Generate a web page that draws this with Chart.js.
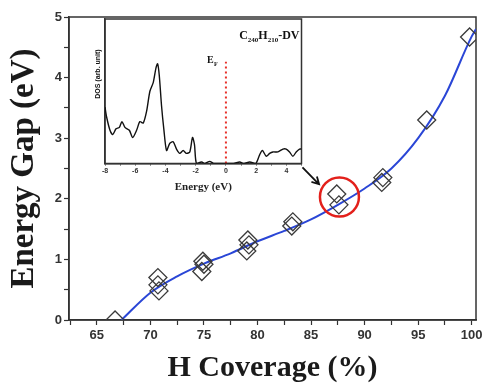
<!DOCTYPE html>
<html>
<head>
<meta charset="utf-8">
<script src="https://cdn.jsdelivr.net/npm/chart.js@4.4.1/dist/chart.umd.min.js"></script>
<style>
  html, body { margin: 0; padding: 0; background: #fff; }
  #wrap { position: relative; width: 487px; height: 383px; }
  #main { position: absolute; left: 0; top: 0; }
  #inset { position: absolute; left: 88px; top: 18px; }
</style>
</head>
<body>
<div id="wrap">
  <canvas id="main" width="487" height="383"></canvas>
  <canvas id="inset" width="222" height="178"></canvas>
</div>
<script>
// H coverage (%) and band gap (eV) of each configuration
const coverage = [66.7, 70.7, 70.7, 70.8, 74.9, 75.0, 74.8, 79.1, 79.2, 79.0, 83.3, 83.2, 87.4, 87.6, 91.7, 91.6, 95.8, 99.8];
const gap      = [0, 0.70, 0.58, 0.48, 0.97, 0.92, 0.80, 1.32, 1.24, 1.14, 1.62, 1.55, 2.08, 1.90, 2.35, 2.27, 3.30, 4.67];

// fitted trend
const fitX = [67.3, 70, 72.5, 75, 77.5, 80, 82.5, 85, 87.5, 90, 92.5, 95, 97.5, 100, 100.4];
const fitY = [0, 0.45, 0.72, 0.93, 1.10, 1.30, 1.47, 1.66, 1.90, 2.17, 2.50, 3.00, 3.70, 4.68, 4.80];

// DOS of C240H210-DV (inset)
const energy = [-8.0, -7.89, -7.67, -7.49, -7.27, -7.05, -6.88, -6.68, -6.39, -6.17, -5.91, -5.69, -5.47, -5.25,
  -5.03, -4.81, -4.63, -4.52, -4.41, -4.26, -4.11, -3.93, -3.71, -3.49, -3.27, -3.05, -2.83, -2.61, -2.39,
  -2.21, -2.08, -1.95, -1.6, -1.4, -1.07, -0.8, 0.5, 0.91, 1.2, 1.57, 1.97, 2.23, 2.41, 2.67, 2.89, 3.11,
  3.44, 3.77, 3.99, 4.21, 4.43, 4.65, 4.87, 5.0];
const dos = [0.39, 0.32, 0.23, 0.20, 0.24, 0.25, 0.29, 0.25, 0.23, 0.18, 0.23, 0.29, 0.28, 0.36,
  0.50, 0.56, 0.66, 0.69, 0.61, 0.40, 0.24, 0.09, 0.14, 0.15, 0.10, 0.07, 0.09, 0.07, 0.08,
  0.18, 0.13, 0, 0.01, 0, 0.015, 0, 0, 0.01, 0, 0.01, 0, 0.06, 0.09, 0.05, 0.07, 0.08,
  0.08, 0.10, 0.10, 0.08, 0.05, 0.08, 0.10, 0.10];
const fermiLevel = [0, 0.705];

const blue = '#2a46d6';
const axisColor = '#333';
const sans = 'Liberation Sans';
const serif = 'Liberation Serif';

// closed box round the plot area
const boxFrame = {
  id: 'boxFrame',
  beforeDatasetsDraw(chart, args, opts) {
    const { ctx, chartArea: a } = chart;
    ctx.save();
    ctx.strokeStyle = opts.color || axisColor;
    ctx.lineWidth = opts.width || 1.5;
    ctx.strokeRect(a.left, a.top, a.right - a.left, a.bottom - a.top);
    ctx.restore();
  }
};

// red ring round the 87.5 % points and the arrow from the inset
const callout = {
  id: 'callout',
  afterDatasetsDraw(chart) {
    const { ctx, scales: { x, y } } = chart;
    ctx.save();
    ctx.strokeStyle = '#e3201b';
    ctx.lineWidth = 2.5;
    ctx.beginPath();
    ctx.arc(x.getPixelForValue(87.65), y.getPixelForValue(2.03), 19.5, 0, Math.PI * 2);
    ctx.stroke();

    const x0 = x.getPixelForValue(84.2), y0 = y.getPixelForValue(2.52);
    const x1 = x.getPixelForValue(85.75), y1 = y.getPixelForValue(2.24);
    const ang = Math.atan2(y1 - y0, x1 - x0);
    ctx.strokeStyle = '#111';
    ctx.lineWidth = 1.8;
    ctx.beginPath();
    ctx.moveTo(x0, y0);
    ctx.lineTo(x1, y1);
    ctx.moveTo(x1 - 8 * Math.cos(ang - 0.5), y1 - 8 * Math.sin(ang - 0.5));
    ctx.lineTo(x1, y1);
    ctx.lineTo(x1 - 8 * Math.cos(ang + 0.5), y1 - 8 * Math.sin(ang + 0.5));
    ctx.stroke();
    ctx.restore();
  }
};

// texts inside the inset: formula, E_F tag, rotated DOS label
const insetLabels = {
  id: 'insetLabels',
  afterDraw(chart) {
    const { ctx, chartArea: a, scales: { x } } = chart;
    ctx.save();
    ctx.fillStyle = '#111';
    ctx.textBaseline = 'alphabetic';

    const parts = [['C', 0], ['240', 1], ['H', 0], ['210', 1], ['-DV', 0]];
    const big = 'bold 12px ' + serif, small = 'bold 7px ' + serif;
    let w = 0;
    parts.forEach(([t, sub]) => { ctx.font = sub ? small : big; w += ctx.measureText(t).width; });
    let px = a.right - 2 - w;
    const base = a.top + 20;
    parts.forEach(([t, sub]) => {
      ctx.font = sub ? small : big;
      ctx.fillText(t, px, sub ? base + 3 : base);
      px += ctx.measureText(t).width;
    });

    const fx = x.getPixelForValue(0);
    ctx.font = 'bold 10px ' + serif;
    ctx.fillText('E', fx - 19, a.top + 44);
    ctx.font = 'bold 6px ' + serif;
    ctx.fillText('F', fx - 12, a.top + 47);

    ctx.translate(a.left - 7, a.top + 55);
    ctx.rotate(-Math.PI / 2);
    ctx.font = 'bold 7px ' + sans;
    ctx.textAlign = 'center';
    ctx.textBaseline = 'middle';
    ctx.fillText('DOS (arb. unit)', 0, 0);
    ctx.restore();
  }
};

new Chart(document.getElementById('main'), {
  type: 'scatter',
  data: {
    datasets: [
      {
        type: 'line',
        data: fitX.map((v, i) => ({ x: v, y: fitY[i] })),
        borderColor: blue,
        borderWidth: 2,
        pointRadius: 0,
        cubicInterpolationMode: 'monotone',
        fill: false,
        order: 2
      },
      {
        data: coverage.map((v, i) => ({ x: v, y: gap[i] })),
        pointStyle: 'rectRot',
        pointRadius: 9,
        pointBorderColor: '#3b3b3b',
        pointBackgroundColor: 'rgba(0,0,0,0)',
        pointBorderWidth: 1.3,
        order: 1
      }
    ]
  },
  options: {
    responsive: false,
    animation: false,
    layout: { padding: { top: 17, right: 11, left: 0, bottom: 0 } },
    plugins: {
      legend: { display: false },
      tooltip: { enabled: false },
      boxFrame: { color: axisColor, width: 1.5 }
    },
    scales: {
      x: {
        type: 'linear',
        min: 62.4,
        max: 100.4,
        afterFit: s => { s.height = 63; },
        border: { color: axisColor, width: 1.5 },
        grid: { drawOnChartArea: false, tickLength: 5, tickColor: axisColor, tickWidth: 1.2 },
        ticks: {
          stepSize: 2.5,
          includeBounds: false,
          autoSkip: false,
          maxRotation: 0,
          padding: 3,
          color: axisColor,
          font: { family: sans, weight: 'bold', size: 13 },
          callback: v => Math.abs(v % 5) < 1e-6 ? v : ''
        },
        title: {
          display: true,
          text: 'H Coverage (%)',
          color: '#1a1a1a',
          font: { family: serif, weight: 'bold', size: 30, lineHeight: 1 },
          padding: { top: 0, bottom: 0 }
        }
      },
      y: {
        min: 0,
        max: 5,
        afterFit: s => { s.width = 69; },
        border: { color: axisColor, width: 1.5 },
        grid: { drawOnChartArea: false, tickLength: 5, tickColor: axisColor, tickWidth: 1.2 },
        ticks: {
          stepSize: 0.5,
          autoSkip: false,
          padding: 2,
          color: axisColor,
          font: { family: sans, weight: 'bold', size: 13 },
          callback: v => Number.isInteger(v) ? v : ''
        },
        title: {
          display: true,
          text: 'Energy Gap (eV)',
          color: '#1a1a1a',
          font: { family: serif, weight: 'bold', size: 33, lineHeight: 1 },
          padding: { top: 8, bottom: 0 }
        }
      }
    }
  },
  plugins: [boxFrame, callout]
});

new Chart(document.getElementById('inset'), {
  type: 'line',
  data: {
    datasets: [
      {
        data: energy.map((e, i) => ({ x: e, y: dos[i] })),
        borderColor: '#111',
        borderWidth: 1.4,
        pointRadius: 0,
        tension: 0.25
      },
      {
        data: fermiLevel.map(v => ({ x: 0, y: v })),
        borderColor: '#e8302a',
        borderWidth: 2,
        borderDash: [2, 3],
        pointRadius: 0
      }
    ]
  },
  options: {
    responsive: false,
    animation: false,
    layout: { padding: { top: 1, right: 8.5, left: 0, bottom: 0 } },
    plugins: {
      legend: { display: false },
      tooltip: { enabled: false },
      boxFrame: { color: axisColor, width: 1.5 }
    },
    scales: {
      x: {
        type: 'linear',
        min: -8,
        max: 5,
        afterFit: s => { s.height = 32.5; },
        border: { color: axisColor, width: 1.5 },
        grid: { drawOnChartArea: false, tickLength: 2, tickColor: axisColor },
        ticks: {
          stepSize: 1,
          includeBounds: false,
          autoSkip: false,
          maxRotation: 0,
          padding: 1,
          color: axisColor,
          font: { family: sans, weight: 'bold', size: 7 },
          callback: v => v % 2 === 0 ? v : ''
        },
        title: {
          display: true,
          text: 'Energy (eV)',
          color: '#222',
          font: { family: serif, weight: 'bold', size: 11, lineHeight: 1 },
          padding: { top: 2, bottom: 3 }
        }
      },
      y: {
        min: 0,
        max: 1,
        afterFit: s => { s.width = 17; },
        border: { color: axisColor, width: 1.5 },
        grid: { display: false },
        ticks: { display: false }
      }
    }
  },
  plugins: [boxFrame, insetLabels]
});
</script>
</body>
</html>
